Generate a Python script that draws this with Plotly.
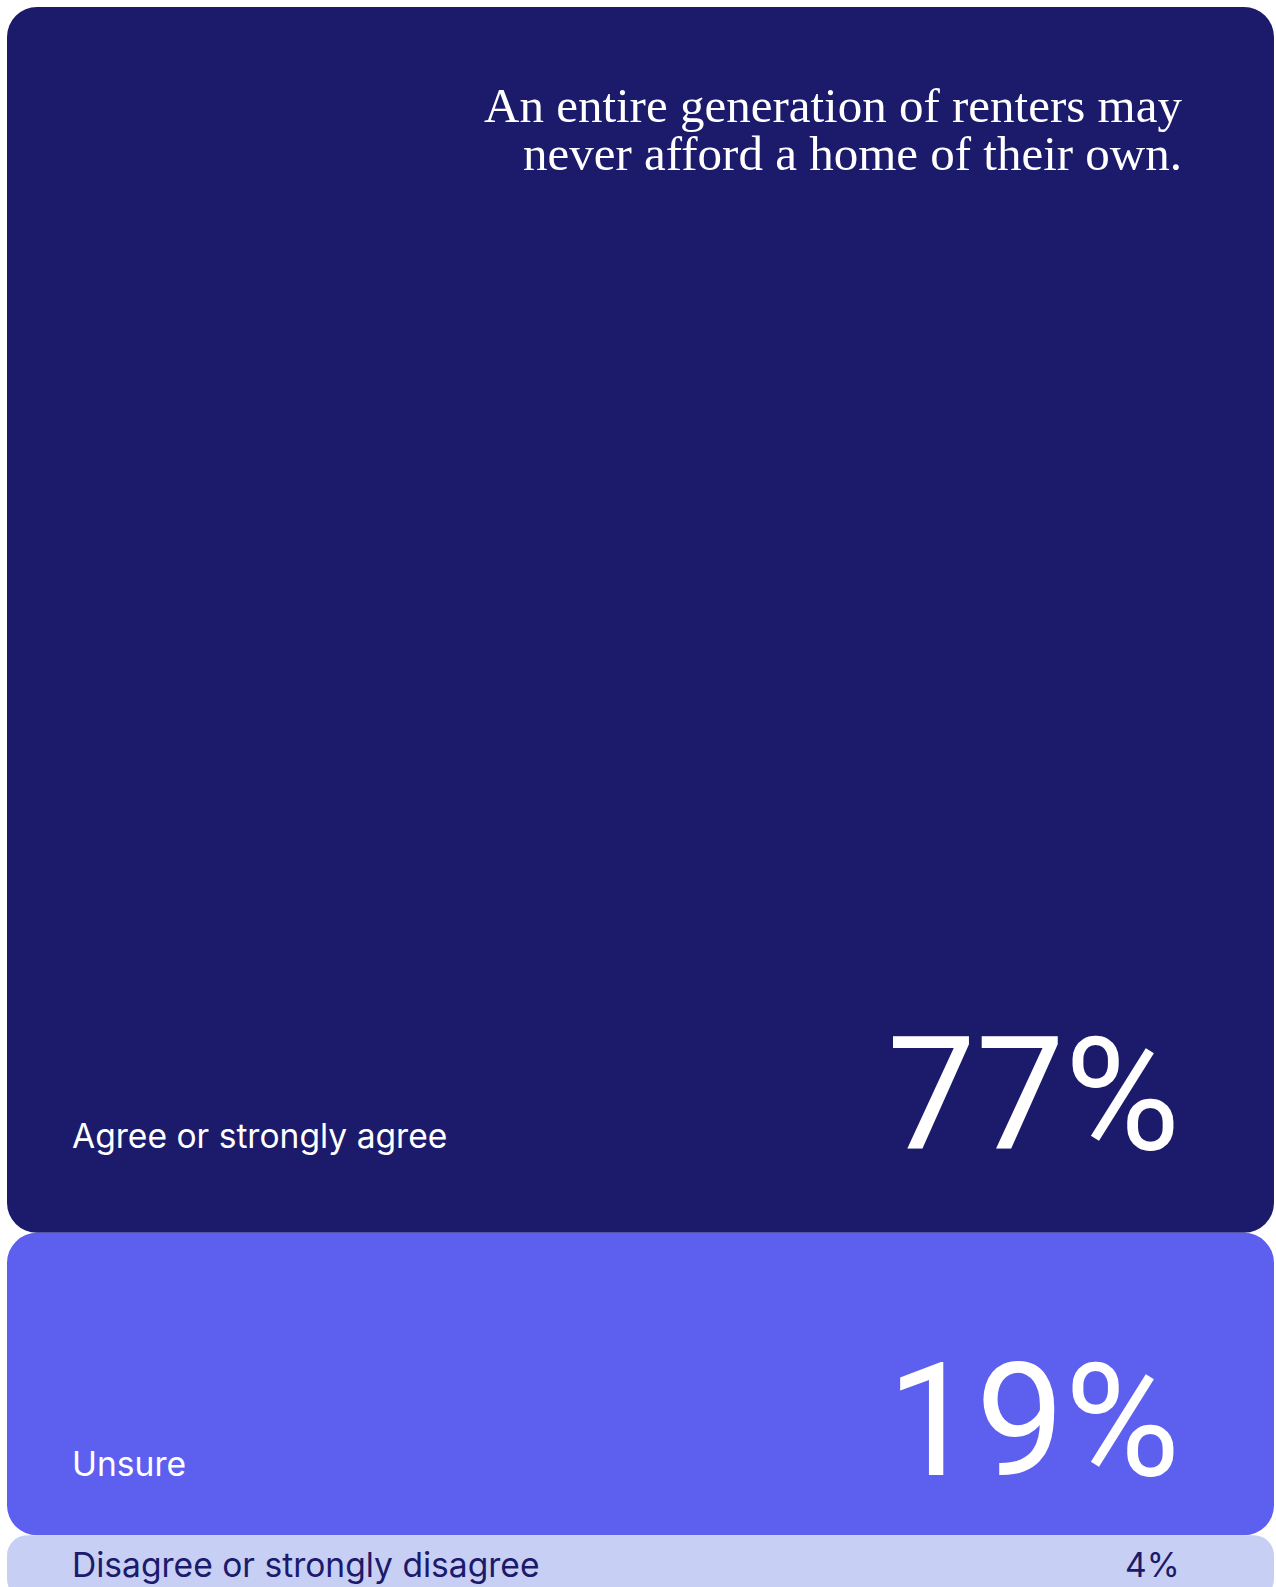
import plotly.graph_objects as go

# Survey responses, stacked top to bottom
categories = ["Agree or strongly agree", "Unsure", "Disagree or strongly disagree"]
shares = [77, 19, 4]
value_labels = ["77%", "19%", "4%"]
title_lines = ["An entire generation of renters may", "never afford a home of their own."]

# Styling per category
fill_colors = ["#1b1a6b", "#5d5fef", "#c8cff4"]
text_colors = ["#ffffff", "#ffffff", "#1b1a6b"]
corner_px = [30, 30, 20]
label_sizes = [33.6, 33.6, 33.6]
value_sizes = [158, 158, 33.6]

W, H = 1276, 1587
M_L, M_R, M_T, M_B = 7, 2, 7, 0
PX_PER_PCT = 15.92
plot_w = W - M_L - M_R
plot_h = H - M_T - M_B
y_lo = 100 - plot_h / PX_PER_PCT

SANS = "Inter, Liberation Sans, Arial, sans-serif"
NUM = "Roboto, Liberation Sans, Arial, sans-serif"
SERIF = "Liberation Serif, Times New Roman, serif"
value_fonts = [NUM, NUM, SANS]


def px_to_paper_y(py):
    return 1 - (py - M_T) / plot_h


def px_to_paper_x(px):
    return (px - M_L) / plot_w


# segment bounds: first category on top, last at the bottom
bounds = []
hi = 100
for s in shares:
    bounds.append((hi - s, hi))
    hi -= s

fig = go.Figure()
for i, (lo, top) in enumerate(bounds):
    fig.add_trace(go.Bar(
        x=[0], y=[top - lo], base=[lo], width=[1],
        marker=dict(color=fill_colors[i], line=dict(width=0), cornerradius=corner_px[i]),
        name=categories[i], showlegend=False, hoverinfo="skip",
    ))

annotations = []

# headline, right aligned, two lines
title_size = 49
for line, baseline in zip(title_lines, [122, 170]):
    annotations.append(dict(
        text=line, xref="paper", yref="paper",
        x=px_to_paper_x(1184), y=px_to_paper_y(baseline - 0.3375 * title_size),
        xanchor="right", yanchor="middle", showarrow=False,
        font=dict(family=SERIF, size=title_size, color="#ffffff"),
    ))

# category labels (left) and values (right), given as text baselines in px
label_baselines = [1147, 1475, 1576]
value_baselines = [1150, 1476, 1576]
for i in range(len(categories)):
    annotations.append(dict(
        text=categories[i], xref="paper", yref="paper",
        x=px_to_paper_x(70), y=px_to_paper_y(label_baselines[i] - 0.3465 * label_sizes[i]),
        xanchor="left", yanchor="middle", showarrow=False,
        font=dict(family=SANS, size=label_sizes[i], color=text_colors[i]),
    ))
    annotations.append(dict(
        text=value_labels[i], xref="paper", yref="paper",
        x=px_to_paper_x(1182), y=px_to_paper_y(value_baselines[i] - 0.3465 * value_sizes[i]),
        xanchor="right", yanchor="middle", showarrow=False,
        font=dict(family=value_fonts[i], size=value_sizes[i], color=text_colors[i]),
    ))

fig.update_layout(
    width=W, height=H,
    margin=dict(l=M_L, r=M_R, t=M_T, b=M_B, pad=0),
    barmode="overlay",
    paper_bgcolor="#ffffff", plot_bgcolor="#ffffff",
    xaxis=dict(range=[-0.5, 0.5], visible=False, fixedrange=True),
    yaxis=dict(range=[y_lo, 100], visible=False, fixedrange=True),
    annotations=annotations,
    showlegend=False,
)

fig.write_html("out.html", config={"displayModeBar": False})
